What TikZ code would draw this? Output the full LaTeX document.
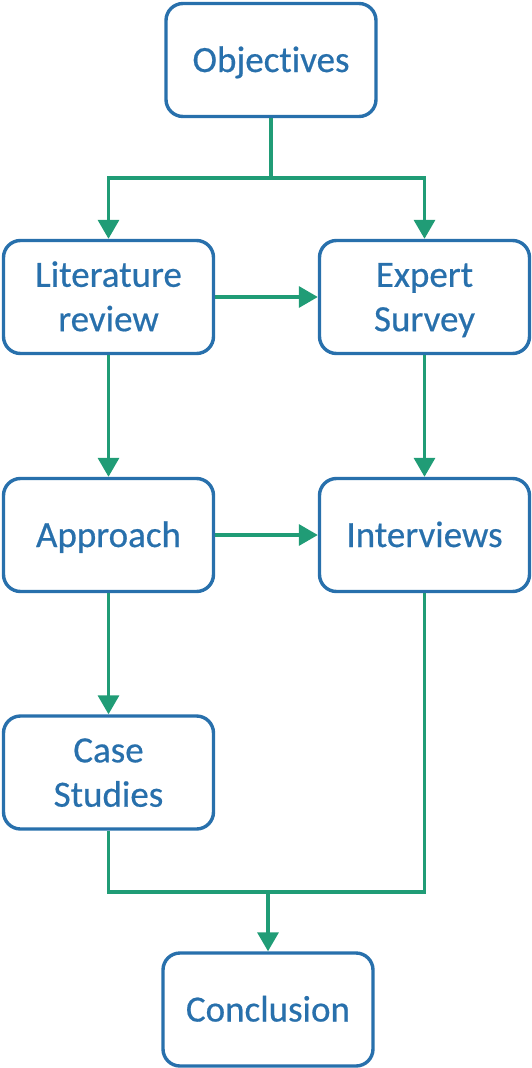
\documentclass[tikz,border=0pt]{standalone}
\usepackage{fontspec}
\setmainfont{Carlito}[Ligatures=NoCommon,FakeBold=0.5]
\usetikzlibrary{arrows.meta}
\definecolor{boxblue}{RGB}{40,112,172}
\definecolor{linkgreen}{RGB}{32,156,118}
\newcommand\lstrut{\rule[-10pt]{0pt}{44pt}}
\begin{document}
\begin{tikzpicture}[x=1pt,y=-1pt,
  stepbox/.style={draw=boxblue, line width=3.4pt, rounded corners=17pt, fill=white,
    minimum width=210pt, minimum height=113pt, align=center, inner sep=0pt,
    text=boxblue, font=\fontsize{37}{44.4}\selectfont},
  link/.style={draw=linkgreen, line width=3.4pt},
  arr/.style={link, -{Triangle[width=21pt,length=19pt]}}]
\useasboundingbox (0,0) rectangle (531,1068);
\node[stepbox] (obj) at (271,60) {\lstrut Objectives};
\node[stepbox] (lit) at (108.5,297) {\lstrut Literature\\\lstrut review};
\node[stepbox] (exp) at (424.5,297) {\lstrut Expert\\\lstrut Survey};
\node[stepbox] (app) at (108.5,535) {\lstrut Approach};
\node[stepbox] (int) at (424.5,535) {\lstrut Interviews};
\node[stepbox] (cas) at (108.5,772.5) {\lstrut Case\\\lstrut Studies};
\node[stepbox] (con) at (268,1009.5) {\lstrut Conclusion};
\coordinate (j1) at (271,178);
\coordinate (j2) at (268,892);
\draw[link] (obj.south) -- (j1);
\draw[arr] (j1) -| (lit.north);
\draw[arr] (j1) -| (exp.north);
\draw[arr] (lit.east) -- (exp.west);
\draw[arr] (lit.south) -- (app.north);
\draw[arr] (exp.south) -- (int.north);
\draw[arr] (app.east) -- (int.west);
\draw[arr] (app.south) -- (cas.north);
\draw[link] (cas.south) |- (j2);
\draw[link] (int.south) |- (j2);
\draw[arr] (j2) -- (con.north);
\end{tikzpicture}
\end{document}
